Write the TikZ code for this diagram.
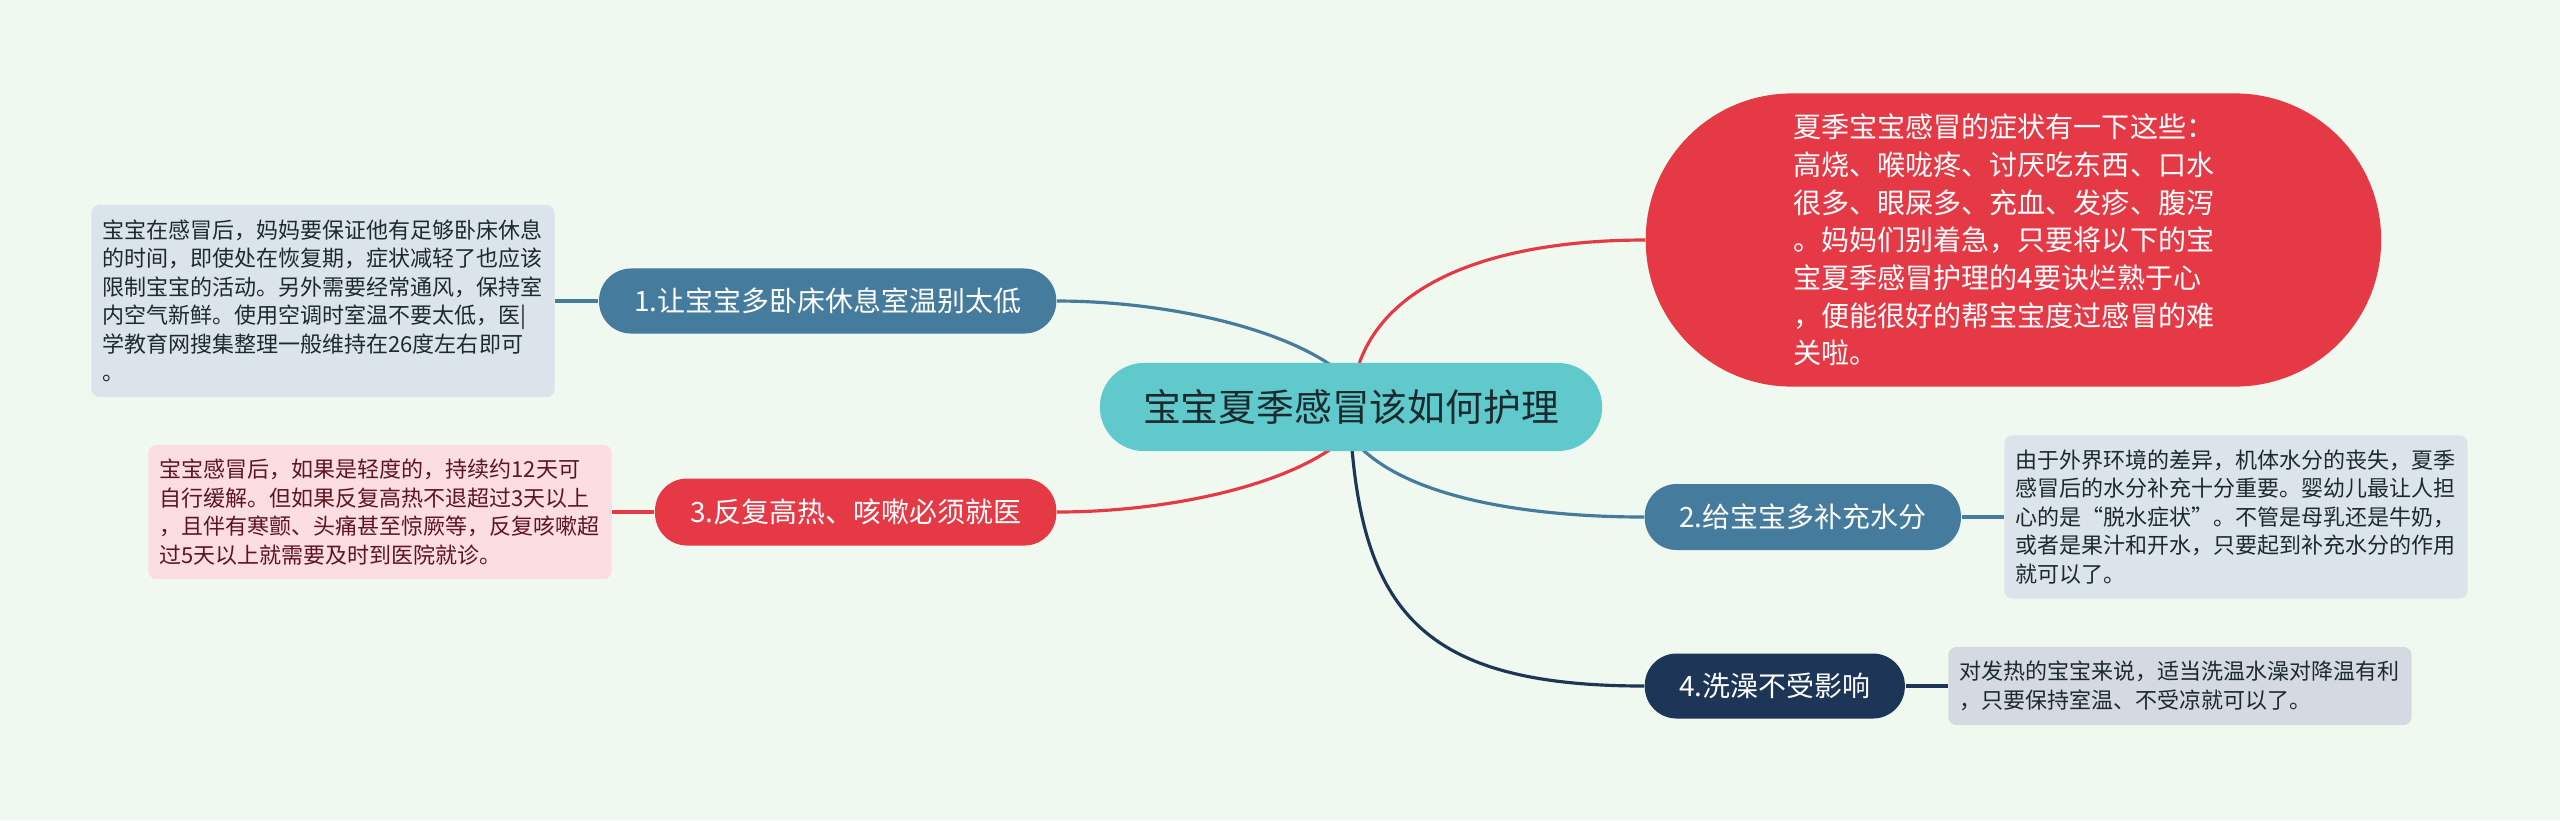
\documentclass[tikz,border=0pt]{standalone}
\usepackage{fontspec}
\setmainfont{Noto Sans CJK SC}
\usetikzlibrary{positioning}
\definecolor{bgpaper}{HTML}{F0F9EF}
\definecolor{cteal}{HTML}{60C9CB}
\definecolor{cblue}{HTML}{457B9D}
\definecolor{cred}{HTML}{E63946}
\definecolor{cnavy}{HTML}{1D3557}
\definecolor{notegray}{HTML}{DCE4EB}
\definecolor{notepink}{HTML}{FCDDE2}
\definecolor{noteash}{HTML}{D5D9E0}
\definecolor{ink}{HTML}{1B2A2E}
\definecolor{redink}{HTML}{5E1520}
\pgfdeclarelayer{links}
\pgfsetlayers{links,main}

\begin{document}
\begin{tikzpicture}[x=0.01cm,y=-0.01cm,
  topic/.style={rectangle,rounded corners=0.32cm,minimum height=0.65cm,
                inner sep=0pt,text=white,font=\fontsize{7.95pt}{9pt}\selectfont},
  note/.style={rectangle,rounded corners=0.08cm,align=left,text width=4.41cm,
               inner xsep=0.11cm,inner ysep=0pt,text=ink,
               font=\fontsize{6.26pt}{8.11pt}\selectfont},
  link/.style={line width=0.9pt}]
\useasboundingbox (0,0) rectangle (2560,820);

\node[rectangle,rounded corners=0.44cm,fill=cteal,minimum width=5.02cm,
      minimum height=0.88cm,text=ink,font=\fontsize{10.75pt}{12pt}\selectfont]
  (root) at (1351,407) {宝宝夏季感冒该如何护理};

\node[rectangle,rounded corners=1.46cm,fill=cred,minimum width=7.35cm,
      minimum height=2.93cm,text=white,align=left,text width=4.40cm,
      font=\fontsize{7.98pt}{10.73pt}\selectfont,anchor=west]
  (symptom) at (1645,240) {夏季宝宝感冒的症状有一下这些：\\
高烧、喉咙疼、讨厌吃东西、口水\\
很多、眼屎多、充血、发疹、腹泻\\
。妈妈们别着急，只要将以下的宝\\
宝夏季感冒护理的4要诀烂熟于心\\
，便能很好的帮宝宝度过感冒的难\\
关啦。};

\node[topic,fill=cblue,minimum width=4.57cm,anchor=east] (n1) at (1057,301)
  {1.让宝宝多卧床休息室温别太低};
\node[topic,fill=cred,minimum width=4.01cm,minimum height=0.67cm,anchor=east]
  (n3) at (1057,512) {3.反复高热、咳嗽必须就医};
\node[topic,fill=cblue,minimum width=3.16cm,minimum height=0.66cm,anchor=west]
  (n2) at (1644,517) {2.给宝宝多补充水分};
\node[topic,fill=cnavy,minimum width=2.60cm,anchor=west] (n4) at (1644,686)
  {4.洗澡不受影响};

\node[note,fill=notegray,minimum height=1.92cm,left=0.43cm of n1] (note1)
  {宝宝在感冒后，妈妈要保证他有足够卧床休息\\
的时间，即使处在恢复期，症状减轻了也应该\\
限制宝宝的活动。另外需要经常通风，保持室\\
内空气新鲜。使用空调时室温不要太低，医|\\
学教育网搜集整理一般维持在26度左右即可\\
。};
\node[note,fill=notepink,text=redink,minimum height=1.34cm,left=0.42cm of n3]
  (note3) {宝宝感冒后，如果是轻度的，持续约12天可\\
自行缓解。但如果反复高热不退超过3天以上\\
，且伴有寒颤、头痛甚至惊厥等，反复咳嗽超\\
过5天以上就需要及时到医院就诊。};
\node[note,fill=notegray,minimum height=1.63cm,right=0.42cm of n2] (note2)
  {由于外界环境的差异，机体水分的丧失，夏季\\
感冒后的水分补充十分重要。婴幼儿最让人担\\
心的是“脱水症状”。不管是母乳还是牛奶，\\
或者是果汁和开水，只要起到补充水分的作用\\
就可以了。};
\node[note,fill=noteash,minimum height=0.78cm,right=0.42cm of n4] (note4)
  {对发热的宝宝来说，适当洗温水澡对降温有利\\
，只要保持室温、不受凉就可以了。};

\begin{pgfonlayer}{links}
\fill[bgpaper] (0,0) rectangle (2560,820);
\draw[link,cblue] ([shift={(11,-12)}]root.center) .. controls +(-40,-60) and +(120,0) .. (n1.east);
\draw[link,cred] ([shift={(1,-12)}]root.center) .. controls +(13,-115) and +(-145,0) .. (symptom.west);
\draw[link,cred] ([shift={(11,12)}]root.center) .. controls +(-40,60) and +(123,0) .. (n3.east);
\draw[link,cblue] ([shift={(-11,12)}]root.center) .. controls +(35,76) and +(-124,0) .. (n2.west);
\draw[link,cnavy] ([shift={(-1,13)}]root.center) .. controls +(10,190) and +(-224,0) .. (n4.west);
\draw[link,cblue] (n1) -- (note1);
\draw[link,cred] (n3) -- (note3);
\draw[link,cblue] (n2) -- (note2);
\draw[link,cnavy] (n4) -- (note4);
\end{pgfonlayer}
\end{tikzpicture}
\end{document}
